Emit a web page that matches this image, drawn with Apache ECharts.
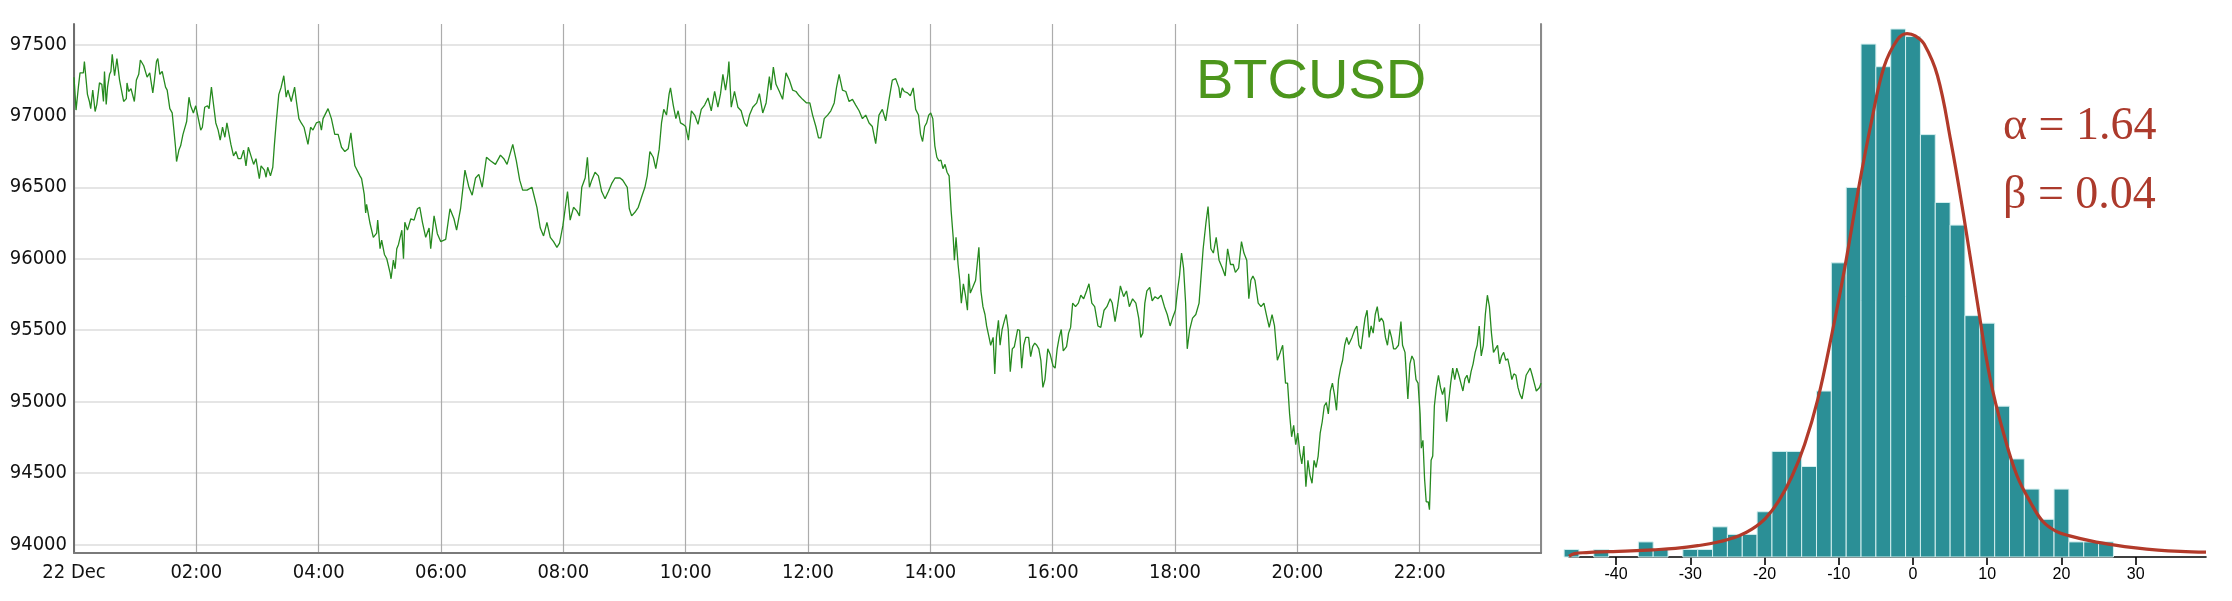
<!DOCTYPE html>
<html>
<head>
<meta charset="utf-8">
<script src="https://cdn.jsdelivr.net/npm/echarts@6/dist/echarts.min.js"></script>
<style>
  html, body { margin: 0; padding: 0; background: #ffffff; }
  #chart { width: 2232px; height: 601px; }
</style>
</head>
<body>
<div id="chart"></div>
<script>
// ---------- BTCUSD price path (minutes after 00:00, 22 Dec) ----------
const minutes = [
  0,2,4.3,5.9,9.2,10.2,13.2,15.1,16.4,18.4,20.7,22.4,25,27.3,28.9,29.9,31.6,32.9,34.9,36.2,37.5,39.8,42.1,44.7,46,48.7,51.3,52,53.6,55.9,
  59.2,61.2,63.5,65.1,68.4,71.7,74.3,77.3,78.9,80.9,82.2,84.2,86.5,89.8,91.4,94,96.3,98,99.6,100.6,102.9,104.6,106.9,108.8,110.5,112.8,114.4,117.1,119.4,124.3,
  125.9,128.2,130.9,132.5,134.8,136.5,139.1,141.4,143.4,145.7,148,150,153.9,156.5,158.8,161.1,163.7,166.4,168.7,171,173.6,176.2,178.5,180.8,181.8,183.5,186.8,188.4,190,192.7,
  195,196.6,198.3,200.9,203.2,205.8,208.1,209.8,213.1,216.4,218,220.6,222.9,225.6,229.5,232.1,234.4,237.7,241,242.7,244.3,249.2,252.5,255.8,259.1,262.4,265.7,269,271.6,273.2,
  275.5,280.5,282.1,284.7,286.1,287,290.3,293.6,296.9,297.9,300.2,301.8,304.5,306.8,310.1,311,313.3,315,316.6,318.3,321.6,
  323.2,324.5,327.1,330.4,333.6,336.9,339.2,341.8,345,348.3,349.9,353.2,356.4,359.7,364.6,368.8,372.7,375.3,379.2,383.5,387.4,390.6,393.9,397.1,400.4,404.6,408.5,413.4,418.3,421.6,
  424.8,430.4,433.9,437.2,440.1,444.4,449.2,454.1,457.4,460.6,463.9,467.2,470.4,473.7,476.3,479.5,481.8,484.1,486.7,490,493.2,495.8,498.1,501.4,503.6,505.6,507.9,511.1,514.4,517.6,
  520.9,524.2,527.4,530.7,535.6,538.2,540.4,542.7,544.7,547,550.2,553.5,556.7,560,562.3,564.9,568.2,570.7,574,576.3,578.5,581.2,583.8,585.1,587.8,590.4,592.6,594.9,597.4,600,
  602.7,605.6,608.8,612.1,615.3,618.6,621.9,625.1,628.4,631.6,634.2,636.5,639.1,641.4,642.4,644.7,647.9,651.2,654.4,657.7,660,662.6,665.8,669.7,672.3,675.6,678.9,682.1,683.7,686,
  688.6,691.9,695.1,698.4,701.7,704.9,708.2,711.4,714.7,718.6,721.8,724.5,727.7,730.3,732.6,735.9,739.2,742.4,745.7,747.9,750.5,753.8,757.1,760.3,763.6,766.8,770.1,773.4,776.6,779.9,
  783.1,786.4,789.6,792.9,796.2,799.5,802.7,806,809.2,
  810.4,812.4,814.4,817.6,820.4,823.2,825.6,828.4,830.4,832.4,834.4,836.4,838.4,840.4,842.4,844.4,846.4,848.4,850.4,852.4,854.4,856.4,858.4,860.4,862.4,863.6,865.2,867.2,868.8,870.4,
  872.4,874.4,876.4,877.6,879.2,881.6,884.4,887.6,889.6,891.6,893.6,895.2,897.6,899.2,901.6,903.2,904.8,906.8,908.4,910.4,912.4,914.4,916.4,918.4,920.4,922.4,925.6,927.6,929.6,931.6,
  933.6,936.4,938.4,940.4,942.4,944.4,946.4,948.4,950.4,952.4,955.2,957.6,960.4,962.4,964.4,966.4,968.4,970.4,973.6,975.6,977.6,979.6,982.4,985.2,987.6,990.4,993.2,995.6,998.4,1001.2,
  1004.4,1007.2,1010.4,1013.2,1016.4,1018.4,1021.2,1023.6,1026.4,1029.6,1032.4,1035.2,1038.4,1041.6,1044.4,1046.4,1048.4,1050.4,1052.4,1055.2,1057.6,1060.4,1063.2,1066.4,1069.6,1072.4,1075.2,1077.6,1080.4,1082.4,
  1084.4,1086.4,1088.4,1090.4,1092,1094.4,1097.2,1100.4,1103.6,1105.6,1107.6,1110.4,1112.4,1115.2,1117.6,1120.4,1123.2,1126.4,1129.2,1131.6,1134.4,1137.2,1139.2,1142.4,1145.2,1147.6,1150.4,1152.4,1154.4,1156.4,
  1158.4,1161.6,1164.4,1167.2,1169.6,1172.4,1175.2,1177.6,1180.4,1183.2,1185.6,1188.4,1190.4,1192.4,1194.4,1196.4,1198.4,1200.4,1202.4,1204.4,1206.4,1208.4,1210.4,1212.4,1214.4,1216.4,1218.4,1220.4,1222.4,1224.4,
  1226.4,1228.4,1230.4,1232.4,1234.4,1236.4,1238.4,1240.4,1242.4,1244.4,1246.4,1248.4,1250.4,1253.6,1256.4,1258.4,1260.4,1262.4,1264.4,1266.4,1268.4,1270.4,1272.4,1274.4,1276.4,1278.4,1280.4,1282.4,1284.4,1286.4,
  1288.4,1290.4,1292.4,1294.4,1296.4,1299.2,1301.6,1303.2,1305.6,1308.4,1310.4,1312.4,1314.4,1316.4,1318.4,1320.4,1321.6,1323.2,1324.8,1326.4,1328.4,1329.6,1331.2,1332.8,1334.4,1336.4,1338.4,1340.4,1342.4,1344.4,
  1346.4,1348.4,1350.4,1352.4,1354.4,1356.4,1358.4,1360.4,1362.4,1364.4,1366.4,1368.4,1370.4,1372.4,1374.4,1376.4,1378.4,1380.4,1382.4,1384.4,1386.4,1388.4,1390.4,1392.4,1394.4,1396.4,1398.4,1400.4,1402.4,1404.4,
  1406.4,1408.4,1410.4,1412.4,1414.4,1416.4,1418.4,1420.4,1422.4,1424.4,1426.4,1428.4,1430.4,1432.4,1434.4,1437.6,1439
];
const prices = [
  97270,97040,97200,97300,97300,97380,97150,97100,97050,97180,97030,97080,97230,97220,97100,97310,97080,97200,97290,97310,97430,97280,97400,97250,97200,97100,97120,97230,97170,97190,
  97100,97250,97290,97390,97350,97270,97300,97160,97250,97380,97400,97290,97310,97200,97180,97050,97020,96900,96780,96680,96760,96790,96870,96860,96960,97130,97070,97020,97070,96900,
  96920,97060,97070,97050,97200,97100,96950,96900,96830,96920,96850,96950,96800,96720,96750,96700,96700,96760,96650,96780,96720,96660,96700,96600,96560,96650,96620,96570,96640,96580,
  96640,96800,96950,97150,97200,97280,97130,97180,97100,97200,97110,96980,96950,96920,96800,96920,96900,96950,96960,96900,96980,97050,96980,96870,96870,96780,96750,96770,96880,96780,
  96650,96580,96560,96450,96320,96380,96250,96150,96180,96270,96070,96130,96030,96000,95900,95860,95990,95930,96070,96100,96200,
  96000,96255,96200,96280,96270,96350,96360,96255,96150,96215,96070,96300,96175,96120,96135,96350,96280,96200,96350,96620,96500,96445,96565,96590,96500,96710,96685,96660,96725,96700,
  96660,96800,96685,96550,96480,96480,96500,96360,96215,96160,96255,96150,96120,96080,96110,96230,96350,96470,96270,96360,96335,96300,96500,96565,96710,96500,96550,96605,96580,96470,
  96420,96470,96525,96565,96565,96550,96525,96500,96350,96300,96325,96360,96430,96500,96580,96750,96710,96630,96765,96950,97045,97005,97155,97195,97075,96980,97035,96950,96940,96925,
  96830,97035,97005,96940,97045,97075,97125,97035,97170,97060,97155,97290,97180,97290,97380,97060,97170,97060,97035,96950,96925,97005,97060,97090,97155,97020,97090,97275,97180,97340,
  97220,97170,97115,97300,97250,97180,97170,97140,97115,97090,97090,97005,96925,96845,96845,96980,97005,97035,97090,97195,97290,97180,97170,97100,97115,97075,97035,96980,97005,96950,
  96925,96805,97005,97045,96965,97115,97250,97260,97195,
  97125,97195,97170,97160,97140,97195,97045,97005,96870,96820,96925,96950,97005,97020,96980,96790,96710,96685,96690,96630,96660,96605,96580,96335,96150,95990,96150,95960,95850,95690,
  95825,95745,95640,95895,95760,95800,95850,96080,95775,95665,95610,95530,95450,95395,95450,95195,95450,95570,95395,95505,95560,95610,95505,95210,95370,95385,95505,95500,95235,95395,
  95450,95450,95315,95385,95410,95395,95370,95290,95100,95155,95370,95330,95250,95235,95370,95450,95505,95355,95385,95480,95520,95690,95665,95690,95745,95720,95775,95825,95690,95665,
  95530,95520,95640,95665,95720,95690,95560,95665,95810,95735,95775,95665,95720,95690,95585,95450,95480,95690,95775,95800,95705,95735,95720,95745,95665,95610,95530,95585,95640,95775,
  95880,96040,95935,95690,95370,95505,95585,95610,95690,95880,96070,96255,96365,96070,96040,96150,95990,95935,95880,96070,95960,95960,95905,95935,96120,96040,95990,95720,95850,95880,
  95850,95690,95665,95690,95610,95520,95610,95530,95290,95345,95395,95130,95130,94915,94755,94835,94700,94780,94645,94565,94690,94405,94590,94485,94430,94590,94540,94620,94780,94860,
  94970,94995,94915,95075,95130,95050,94940,95155,95235,95290,95395,95450,95400,95450,95505,95530,95395,95370,95480,95585,95640,95450,95530,95480,95610,95665,95560,95585,95560,95450,
  95395,95505,95450,95370,95370,95395,95560,95395,95345,95020,95265,95320,95290,95155,95130,94915,94675,94730,94460,94300,94300,94245,94590,94620,94970,95100,95185,95100,95050,95100,
  94860,94995,95130,95235,95155,95235,95185,95130,95075,95160,95185,95130,95210,95265,95345,95395,95530,95320,95395,95610,95745,95665,95480,95345,95370,95395,95265,95320,95345,95290,
  95300,95235,95155,95195,95185,95100,95050,95020,95100,95185,95210,95235,95185,95130,95075,95100,95130
];
const timeTickLabels = ['22 Dec','02:00','04:00','06:00','08:00','10:00','12:00','14:00','16:00','18:00','20:00','22:00'];

// ---------- Histogram of returns ----------
const binCenters = [-46,-42,-36,-34,-30,-28,-26,-24,-22,-20,-18,-16,-14,-12,-10,-8,-6,-4,-2,0,2,4,6,8,10,12,14,16,18,20,22,24,26];
const binCounts  = [1,1,2,1,1,1,4,3,3,6,14,14,12,22,39,49,68,65,70,69,56,47,44,32,31,20,13,9,5,9,2,2,2];
const binWidth = 2;

// ---------- Fitted stable density ----------
const curveX = [-46.34,-45.6,-44,-41,-38,-35,-32,-29,-26.4,-23.5,-21.7,-19.9,-18.1,-16.3,-14.6,-12.8,-11,-9.2,-7.4,-5.6,-3.9,-2.1,-0.8,0.3,1.5,3.3,5.1,6.8,8.6,10.4,12.2,14,15.8,17.5,19.3,21.1,24.1,27,30,33,36,39.47];
const curveY = [0.1,0.45,0.58,0.7,0.8,0.95,1.15,1.5,1.95,2.8,3.7,5.1,7.4,10.7,14.9,21,29.2,38.3,48.5,57.7,65,68.6,69.4,69.1,68,63.8,55.1,45.4,34.2,23.6,16.4,10.8,7.3,4.7,3.4,2.8,2.1,1.6,1.2,0.92,0.75,0.64];

const titleText = 'BTCUSD';
const alphaText = 'α = 1.64';
const betaText = 'β = 0.04';

const priceData = minutes.map((m, i) => [m, prices[i]]);
const histData = binCenters.map((c, i) => [c, binCounts[i]]);
const curveData = curveX.map((x, i) => [x, curveY[i]]);

const axisFont = '"DejaVu Sans Condensed", "DejaVu Sans", sans-serif';

const chart = echarts.init(document.getElementById('chart'), null, { renderer: 'canvas' });
chart.setOption({
  animation: false,
  backgroundColor: '#ffffff',
  grid: [
    { left: 74, top: 24, width: 1467, height: 529, containLabel: false, outerBoundsMode: 'none' },
    { left: 1569, top: 29, width: 637, height: 528, containLabel: false, outerBoundsMode: 'none' }
  ],
  xAxis: [
    {
      type: 'value', gridIndex: 0, min: 0, max: 1439, interval: 120,
      axisLine: { show: true, onZero: false, lineStyle: { color: '#7a7a7a', width: 2 } },
      axisTick: { show: false },
      axisLabel: {
        show: true, margin: 10, color: '#111', fontSize: 20, fontFamily: axisFont,
        showMinLabel: true, showMaxLabel: false,
        formatter: function (v) { const k = Math.round(v / 120); return (Math.abs(v - k * 120) < 0.01 && timeTickLabels[k] !== undefined) ? timeTickLabels[k] : ''; }
      },
      splitLine: { show: true, lineStyle: { color: '#acacac', width: 1.2 } }
    },
    {
      type: 'value', gridIndex: 1, min: -46.34, max: 39.47, splitNumber: 9, minInterval: 10, maxInterval: 10,
      axisLine: { show: true, onZero: false, lineStyle: { color: '#000', width: 1.6 } },
      axisTick: { show: true, length: 8, lineStyle: { color: '#000', width: 1.6 } },
      axisLabel: { show: true, margin: 10, color: '#000', fontSize: 16, fontFamily: '"Liberation Sans", Arial, sans-serif', showMinLabel: false, showMaxLabel: false,
        formatter: function (v) { return String(v); } },
      splitLine: { show: false }
    }
  ],
  yAxis: [
    {
      type: 'value', gridIndex: 0, min: 93942, max: 97642, splitNumber: 7, minInterval: 500, maxInterval: 500,
      axisLine: { show: true, onZero: false, lineStyle: { color: '#6e6e6e', width: 2 } },
      axisTick: { show: false },
      axisLabel: { show: true, margin: 7, color: '#111', fontSize: 20, fontFamily: axisFont, showMinLabel: false, showMaxLabel: false,
        formatter: function (v) { return String(Math.round(v)); } },
      splitLine: { show: true, showMinLine: false, showMaxLine: false, lineStyle: { color: '#dcdcdc', width: 1.5 } }
    },
    {
      type: 'value', gridIndex: 0, position: 'right', min: 93942, max: 97642,
      axisLine: { show: true, onZero: false, lineStyle: { color: '#8a8a8a', width: 2 } },
      axisTick: { show: false }, axisLabel: { show: false }, splitLine: { show: false }
    },
    {
      type: 'value', gridIndex: 1, min: 0, max: 70, show: false,
      splitLine: { show: false }
    }
  ],
  series: [
    {
      type: 'line', xAxisIndex: 0, yAxisIndex: 0, data: priceData,
      showSymbol: false, symbol: 'none', smooth: false,
      lineStyle: { color: '#268a1f', width: 1.3 }, z: 3
    },
    {
      type: 'custom', xAxisIndex: 1, yAxisIndex: 2, data: histData, clip: false,
      renderItem: function (params, api) {
        const c = api.value(0), n = api.value(1);
        const p0 = api.coord([c - binWidth / 2, n]);
        const p1 = api.coord([c + binWidth / 2, 0]);
        return {
          type: 'rect',
          shape: { x: p0[0], y: p0[1], width: p1[0] - p0[0], height: p1[1] - p0[1] },
          style: { fill: '#2b8f96', stroke: '#d4efef', lineWidth: 1 }
        };
      },
      z: 2
    },
    {
      type: 'line', xAxisIndex: 1, yAxisIndex: 2, data: curveData,
      showSymbol: false, symbol: 'none', smooth: 0.4,
      lineStyle: { color: '#b23a2a', width: 3.2 }, z: 4
    }
  ],
  graphic: [
    { type: 'text', x: 1196, y: 55, z: 10,
      style: { text: titleText, font: '56px "Liberation Sans", Arial, sans-serif', fill: '#4c961c', verticalAlign: 'top', align: 'left' } },
    { type: 'text', x: 2003, y: 104, z: 10,
      style: { text: alphaText, font: '46px "Liberation Serif", "DejaVu Serif", serif', fill: '#ac3a2c', verticalAlign: 'top', align: 'left' } },
    { type: 'text', x: 2003, y: 173, z: 10,
      style: { text: betaText, font: '46px "Liberation Serif", "DejaVu Serif", serif', fill: '#ac3a2c', verticalAlign: 'top', align: 'left' } }
  ]
});
</script>
</body>
</html>
